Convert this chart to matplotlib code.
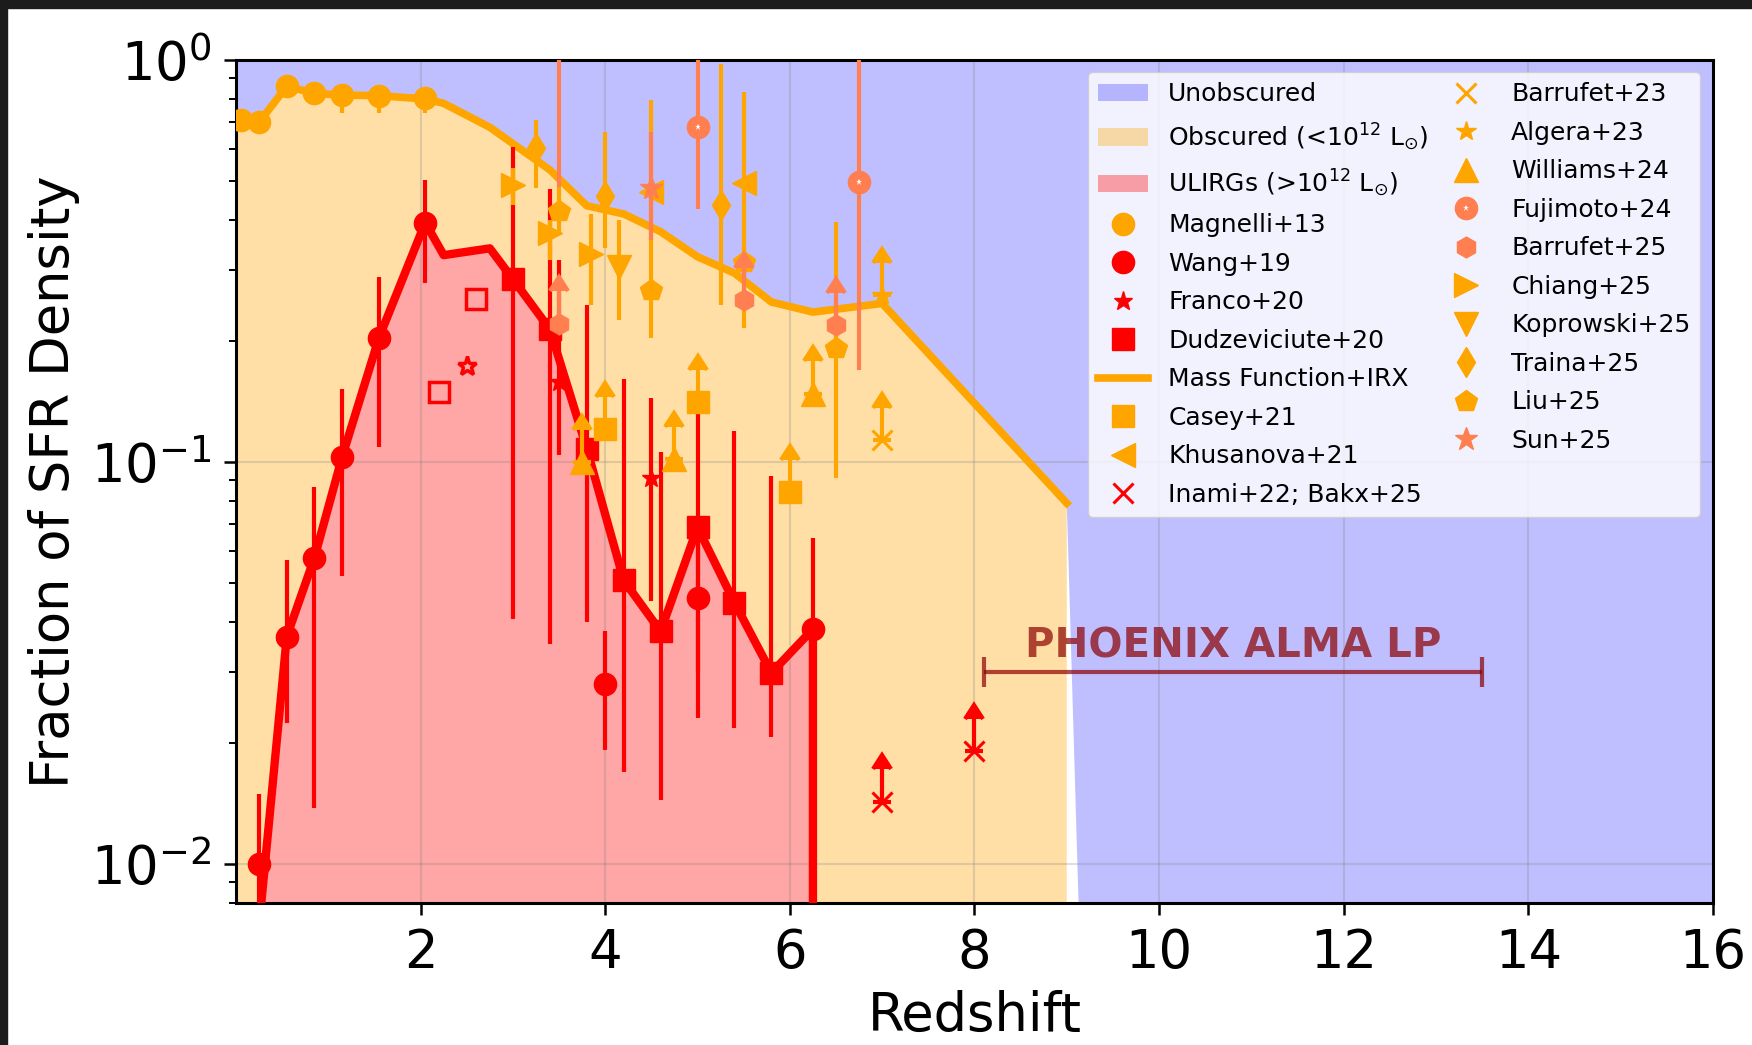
import numpy as np
import matplotlib
matplotlib.use("Agg")
import matplotlib.pyplot as plt
from matplotlib.patches import Patch, Rectangle

# ---- data ----
# mass function + IRX obscured fraction (passes through Magnelli+13 at low z)
mf_z = [0.0, 0.25, 0.55, 0.85, 1.15, 1.55, 2.05, 2.25, 2.75, 3.4, 3.8, 4.2,
        4.6, 5.0, 5.4, 5.8, 6.25, 7.0, 9.0]
mf_f = [0.71, 0.70, 0.86, 0.826, 0.818, 0.815, 0.80, 0.78, 0.68, 0.533, 0.434,
        0.414, 0.374, 0.324, 0.295, 0.25, 0.236, 0.248, 0.079]
tail_z = [9.5, 16.0]
tail_f = [1e-5, 1e-5]

# ULIRG boundary
ulirg_z = [0.25, 0.55, 0.85, 1.15, 1.55, 2.05, 2.25, 2.75, 3.0, 3.4, 3.8, 4.2,
           4.6, 5.0, 5.4, 5.8, 6.25, 6.25]
ulirg_f = [0.007, 0.0368, 0.0578, 0.103, 0.204, 0.394, 0.327, 0.34, 0.285,
           0.214, 0.108, 0.0508, 0.0379, 0.0688, 0.0447, 0.0299, 0.0384, 1e-5]

magnelli_z = [0.05, 0.25, 0.55, 0.85, 1.15, 1.55, 2.05]
magnelli_f = [0.71, 0.70, 0.86, 0.826, 0.818, 0.815, 0.803]
magnelli_lo = [0.69, 0.68, 0.84, 0.80, 0.738, 0.738, 0.738]
magnelli_hi = [0.73, 0.72, 0.88, 0.85, 0.85, 0.85, 0.83]

wang_z = [0.25, 0.55, 0.85, 1.15, 1.55, 2.05, 4.0, 5.0, 6.25]
wang_f = [0.01, 0.0368, 0.0578, 0.103, 0.204, 0.394, 0.0281, 0.0458, 0.0384]
wang_lo = [0.001, 0.0224, 0.0138, 0.052, 0.109, 0.279, 0.0192, 0.0231, 0.001]
wang_hi = [0.0149, 0.057, 0.0868, 0.152, 0.289, 0.503, 0.038, 0.069, 0.0646]

franco_z = [3.5, 4.5]
franco_f = [0.158, 0.091]
franco_lo = [0.104, 0.045]
franco_hi = [0.318, 0.144]
franco_open_z = [2.5]
franco_open_f = [0.173]

dudz_z = [3.0, 3.4, 3.8, 4.2, 4.6, 5.0, 5.4, 5.8]
dudz_f = [0.285, 0.214, 0.108, 0.0508, 0.0379, 0.0688, 0.0447, 0.0299]
dudz_lo = [0.0407, 0.0352, 0.040, 0.0169, 0.0144, 0.03, 0.0218, 0.0207]
dudz_hi = [0.608, 0.477, 0.246, 0.161, 0.1057, 0.14, 0.1197, 0.0925]
dudz_open_z = [2.2, 2.6]
dudz_open_f = [0.149, 0.254]

casey_z = [4.0, 5.0, 6.0]
casey_f = [0.121, 0.141, 0.084]

khus_z = [4.5, 5.5]
khus_f = [0.47, 0.494]
khus_lo = [0.36, 0.215]
khus_hi = [0.795, 0.834]

inami_z = [7.0, 8.0]
inami_f = [0.0143, 0.0191]

barrufet23_z = [7.0]
barrufet23_f = [0.1135]

algera_z = [7.0]
algera_f = [0.26]

williams_z = [3.75, 4.75, 6.25]
williams_f = [0.100, 0.1016, 0.148]

fujimoto_z = [3.5, 5.0, 6.75]
fujimoto_f = [1.3, 0.68, 0.498]
fujimoto_lo = [0.484, 0.427, 0.169]
fujimoto_hi = [3.0, 3.0, 3.0]

barrufet25_z = [3.5, 5.5, 6.5]
barrufet25_f = [0.221, 0.253, 0.219]

chiang_z = [3.0, 3.4, 3.85]
chiang_f = [0.489, 0.372, 0.33]
chiang_lo = [0.436, 0.318, 0.246]
chiang_hi = [0.538, 0.40, 0.415]

koprowski_z = [4.15]
koprowski_f = [0.306]
koprowski_lo = [0.226]
koprowski_hi = [0.40]

traina_z = [3.25, 4.0, 5.25]
traina_f = [0.603, 0.459, 0.436]
traina_lo = [0.48, 0.34, 0.246]
traina_hi = [0.709, 0.663, 0.977]

liu_z = [3.5, 4.5, 5.5, 6.5]
liu_f = [0.42, 0.268, 0.315, 0.192]
liu_lo = [0.37, 0.203, 0.29, 0.0915]
liu_hi = [0.484, 0.36, 0.34, 0.396]

sun_z = [4.5]
sun_f = [0.48]
sun_lo = [0.356]
sun_hi = [0.663]

phoenix_z = [8.1, 13.5]
phoenix_f = 0.030

ARROW = 0.08  # length of lower-limit arrows in dex
ELW = 3

plt.rcParams['font.family'] = 'DejaVu Sans'

fig, ax = plt.subplots(figsize=(17.52, 10.45), dpi=100)
fig.subplots_adjust(left=0.1347, right=0.9777, top=0.9426, bottom=0.1359)

# screenshot-like dark strips on top and left
fig.add_artist(Rectangle((0, 1 - 8 / 1045), 1, 8 / 1045, transform=fig.transFigure,
                         color='#1c1c1c', zorder=10))
fig.add_artist(Rectangle((0, 0), 7 / 1752, 1, transform=fig.transFigure,
                         color='#1c1c1c', zorder=10))


def bars(z, f, lo, hi, c, zo):
    f = np.asarray(f)
    ax.errorbar(z, f, yerr=[f - np.asarray(lo), np.asarray(hi) - f], fmt='none',
                ecolor=c, elinewidth=ELW, capsize=0, zorder=zo)


def arrows(z, f, c, zo):
    f = np.asarray(f)
    cont = ax.errorbar(z, f, yerr=f * (10 ** ARROW - 1), lolims=True, fmt='none',
                       ecolor=c, elinewidth=ELW, capsize=6.5, capthick=ELW, zorder=zo)
    for cl in cont.lines[1]:
        cl.set_markerfacecolor(c)
        cl.set_markeredgecolor(c)


def pts(z, f, m, c, ms, label=None, zo=4, **kw):
    return ax.plot(z, f, ls='none', marker=m, color=c, ms=ms, label=label,
                   zorder=zo, **kw)[0]


# ---- fills ----
ax.fill_between(mf_z + tail_z, mf_f + tail_f, 1.0, color='blue',
                alpha=0.25, lw=0, zorder=0)
obs_x = np.concatenate([mf_z, [mf_z[-1]], ulirg_z[::-1], [0.0]])
obs_y = np.concatenate([mf_f, [1e-5], ulirg_f[::-1], [1e-5]])
ax.fill(obs_x, obs_y, color='orange', alpha=0.35, lw=0, zorder=0)
ax.fill_between(ulirg_z, 1e-5, ulirg_f, color='red', alpha=0.35, lw=0, zorder=0)

# ---- curves ----
ax.plot(ulirg_z, ulirg_f, color='red', lw=6, zorder=3)
h_mf, = ax.plot(mf_z, mf_f, color='orange', lw=5.5, zorder=3)

# ---- red / ULIRG data ----
bars(wang_z, wang_f, wang_lo, wang_hi, 'red', 3)
bars(dudz_z, dudz_f, dudz_lo, dudz_hi, 'red', 3)
bars(franco_z, franco_f, franco_lo, franco_hi, 'red', 3)
h_wang = pts(wang_z, wang_f, 'o', 'red', 16, zo=3.5)
h_dudz = pts(dudz_z, dudz_f, 's', 'red', 16, zo=3.5)
h_franco = pts(franco_z, franco_f, '*', 'red', 14, zo=3.5)
pts(franco_open_z, franco_open_f, '*', 'red', 14, zo=3.5, mfc='none', mew=2.5)
pts(dudz_open_z, dudz_open_f, 's', 'red', 15, zo=3.5, mfc='none', mew=2.5)
arrows(inami_z, inami_f, 'red', 3.5)
h_inami = pts(inami_z, inami_f, 'x', 'red', 14, zo=3.5, mew=2.2)

# ---- Magnelli ----
bars(magnelli_z, magnelli_f, magnelli_lo, magnelli_hi, 'orange', 3)
h_magnelli = pts(magnelli_z, magnelli_f, 'o', 'orange', 16, zo=3.5)

# ---- coral / orange literature points ----
bars(fujimoto_z, fujimoto_f, fujimoto_lo, fujimoto_hi, 'coral', 4)
h_fuji_a = pts(fujimoto_z, fujimoto_f, 'o', 'coral', 16, zo=4)
h_fuji_b = pts(fujimoto_z, fujimoto_f, '*', 'white', 5, zo=4.1, mew=0)

bars(chiang_z, chiang_f, chiang_lo, chiang_hi, 'orange', 4)
h_chiang = pts(chiang_z, chiang_f, '>', 'orange', 17)
bars(traina_z, traina_f, traina_lo, traina_hi, 'orange', 4)
h_traina = pts(traina_z, traina_f, 'd', 'orange', 15)
bars(koprowski_z, koprowski_f, koprowski_lo, koprowski_hi, 'orange', 4)
h_kop = pts(koprowski_z, koprowski_f, 'v', 'orange', 17)
bars(khus_z, khus_f, khus_lo, khus_hi, 'orange', 4)
h_khus = pts(khus_z, khus_f, '<', 'orange', 17)
bars(liu_z, liu_f, liu_lo, liu_hi, 'orange', 4)
h_liu = pts(liu_z, liu_f, 'p', 'orange', 16)

arrows(casey_z, casey_f, 'orange', 4)
h_casey = pts(casey_z, casey_f, 's', 'orange', 16)
arrows(williams_z, williams_f, 'orange', 4)
h_williams = pts(williams_z, williams_f, '^', 'orange', 17)
arrows(barrufet23_z, barrufet23_f, 'orange', 4)
h_barr23 = pts(barrufet23_z, barrufet23_f, 'x', 'orange', 15, mew=2.2)
arrows(algera_z, algera_f, 'orange', 4)
h_algera = pts(algera_z, algera_f, '*', 'orange', 15)

arrows(barrufet25_z, barrufet25_f, 'coral', 4.5)
h_barr25 = pts(barrufet25_z, barrufet25_f, 'h', 'coral', 15, zo=4.5)
bars(sun_z, sun_f, sun_lo, sun_hi, 'coral', 4.5)
h_sun = pts(sun_z, sun_f, '*', 'coral', 17, zo=4.5)

# ---- PHOENIX ALMA LP redshift range ----
mid = 0.5 * (phoenix_z[0] + phoenix_z[1])
half = 0.5 * (phoenix_z[1] - phoenix_z[0])
ax.errorbar([mid], [phoenix_f], xerr=[half], fmt='none', ecolor='darkred',
            alpha=0.7, elinewidth=3, capsize=11, capthick=3, zorder=5)
ax.text(mid, phoenix_f * 1.09, 'PHOENIX ALMA LP', ha='center', va='baseline',
        fontsize=29, fontweight='bold', color='darkred', alpha=0.7, zorder=5)

# ---- axes ----
ax.set_yscale('log')
ax.set_xlim(0, 16)
ax.set_ylim(0.008, 1.0)
ax.set_xticks(range(2, 17, 2))
ax.set_xlabel('Redshift', fontsize=38, labelpad=8)
ax.set_ylabel('Fraction of SFR Density', fontsize=38, labelpad=8)
ax.tick_params(which='major', labelsize=38, length=8.5, width=1.8, pad=9)
ax.tick_params(which='minor', length=5, width=1.4)
for sp in ax.spines.values():
    sp.set_linewidth(2.2)
ax.grid(True, which='major', color='gray', alpha=0.25, lw=1.5)

handles = [
    (Patch(facecolor='blue', alpha=0.25, lw=0), 'Unobscured'),
    (Patch(facecolor='orange', alpha=0.35, lw=0), r'Obscured (<10$^{12}$ L$_{\odot}$)'),
    (Patch(facecolor='red', alpha=0.35, lw=0), r'ULIRGs (>10$^{12}$ L$_{\odot}$)'),
    (h_magnelli, 'Magnelli+13'),
    (h_wang, 'Wang+19'),
    (h_franco, 'Franco+20'),
    (h_dudz, 'Dudzeviciute+20'),
    (h_mf, 'Mass Function+IRX'),
    (h_casey, 'Casey+21'),
    (h_khus, 'Khusanova+21'),
    (h_inami, 'Inami+22; Bakx+25'),
    (h_barr23, 'Barrufet+23'),
    (h_algera, 'Algera+23'),
    (h_williams, 'Williams+24'),
    ((h_fuji_a, h_fuji_b), 'Fujimoto+24'),
    (h_barr25, 'Barrufet+25'),
    (h_chiang, 'Chiang+25'),
    (h_kop, 'Koprowski+25'),
    (h_traina, 'Traina+25'),
    (h_liu, 'Liu+25'),
    (h_sun, 'Sun+25'),
]
leg = ax.legend([h for h, _ in handles], [l for _, l in handles], loc='upper right',
                ncol=2, fontsize=18, columnspacing=0.5, labelspacing=0.58,
                numpoints=1)
leg.set_zorder(20)

fig.savefig('out.png', dpi=100)
